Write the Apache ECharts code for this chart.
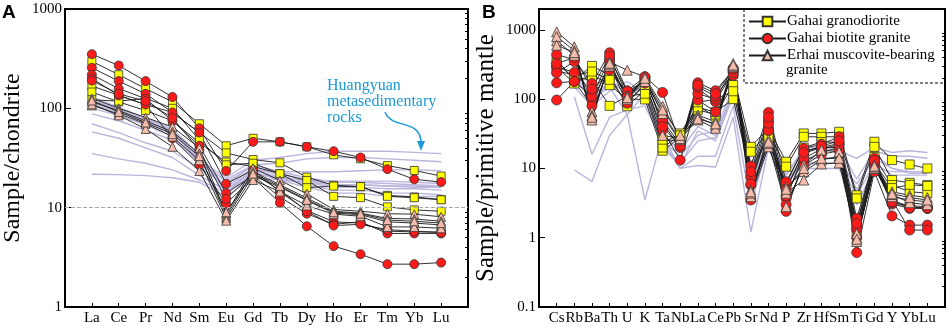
<!DOCTYPE html>
<html>
<head>
<meta charset="utf-8">
<script src="https://cdn.jsdelivr.net/npm/echarts@6/dist/echarts.min.js"></script>
<style>
  html, body { margin: 0; padding: 0; background: #fff; }
  #chart { width: 948px; height: 328px; }
</style>
</head>
<body>
<div id="chart"></div>
<script>
// element order on the two x axes
var reeElements = ['La','Ce','Pr','Nd','Sm','Eu','Gd','Tb','Dy','Ho','Er','Tm','Yb','Lu'];
var spiderElements = ['Cs','Rb','Ba','Th','U','K','Ta','Nb','La','Ce','Pb','Sr','Nd','P','Zr','Hf','Sm','Ti','Gd','Y','Yb','Lu'];

var chondriteTicks = [1, 10, 100, 1000];
var mantleTicks = [0.1, 1, 10, 100, 1000];

// A: chondrite normalised REE
var granodioriteREE = [
  [297, 218, 158, 116, 70, 42, 50, 46, 41, 34, 31, 26.5, 23.7, 20.8],
  [168, 135, 109, 91, 57, 35.6, 30.5, 28.3, 20.3, 16.8, 16.2, 13.3, 12.8, 12.1],
  [146, 116, 95, 75, 45, 28.8, 26, 22, 18.8, 13, 12.6, 10.2, 9.5, 9.2],
  [122, 118, 126, 100, 48, 27, 28, 22, 15.9, 16.5, 16.3, 13, 12.6, 12]
];
var biotiteREE = [
  [351, 270, 188, 130, 63, 23.4, 46, 46, 41, 37, 32, 24.4, 19.3, 18.1],
  [256, 188, 140, 91, 57, 17.4, 24, 14.4, 9.4, 7.2, 7.0, 5.8, 5.7, 5.7],
  [218, 158, 125, 75, 42, 14, 21, 12.8, 8.7, 6.8, 7.2, 5.5, 5.5, 5.5],
  [200, 135, 109, 50, 27, 11, 20, 11.2, 6.5, 4.1, 3.4, 2.7, 2.7, 2.8],
  [190, 140, 118, 80, 38, 12.3, 22, 15, 9.2, 6.6, 6.8, 6.0, 5.8, 5.6]
];
var erhaiREE = [
  [126, 100, 81, 65, 40, 8.7, 25, 18.8, 13.8, 9.6, 9.2, 8.7, 8.6, 8.1],
  [116, 95, 75, 58, 35, 8.2, 23, 17, 12.5, 9.2, 8.8, 7.8, 7.7, 7.3],
  [107, 88, 70, 52, 30, 7.8, 21, 16.1, 11.8, 8.8, 8.5, 7.2, 7, 6.7],
  [110, 85, 62, 41, 23.4, 7.4, 19, 14.5, 10.5, 8.6, 8.2, 6.4, 6.4, 6.2],
  [120, 92, 72, 55, 33, 9, 22, 16.5, 12, 9, 8.7, 7.5, 7.3, 7]
];
var metasedREE = [
  [88, 75, 60, 48, 30, 20, 30, 32, 35, 37, 37, 37, 36, 35],
  [70, 57, 45, 37, 25, 17, 27, 28, 31, 32, 32, 31, 30, 29],
  [58, 50, 40, 32, 21, 15, 24, 23, 23, 23, 23.5, 24, 24, 23.5],
  [35, 31, 28, 24, 19, 14, 22, 20, 19, 18.5, 18.5, 18.5, 18, 17.5],
  [21.7, 21.5, 21, 20, 18, 13, 20, 19, 18, 17, 17, 16.5, 16.5, 16],
  [120, 98, 78, 60, 32, 16, 25, 21, 18, 16, 16, 15.5, 15.5, 15],
  [110, 92, 72, 56, 30, 18, 26, 22, 19, 17, 17, 16.5, 16, 16],
  [130, 102, 80, 62, 34, 14, 24, 20, 17, 15, 15, 14, 14, 13.5],
  [100, 85, 68, 52, 28, 19, 27, 23, 20, 18, 18, 17.5, 17, 16.5],
  [115, 95, 74, 58, 31, 15, 23, 19, 16, 14, 14, 13, 13, 13]
];

// B: primitive mantle normalised trace elements
var granodioriteTrace = [
  [373, 188, 302, 222, 79, 135, 23, 32, 80, 56, 230, 20.5, 38, 12.5, 32, 32, 33.8, 4.1, 24.3, 13.2, 11.4, 10],
  [293, 168, 229, 159, 100, 99, 18, 28, 70, 60, 160, 17.4, 33, 10.6, 28.6, 28.6, 28.6, 3.7, 20.5, 6.8, 6.2, 5.75],
  [330, 200, 192, 80, 110, 120, 20, 30, 76, 65, 100, 8, 30, 6, 20, 24, 24, 1.5, 14.7, 5.75, 4.6, 4.4],
  [260, 220, 250, 190, 90, 160, 26, 25, 90, 100, 130, 10, 28, 5, 18, 20, 20, 1.2, 12, 5.2, 5.8, 5.6]
];
var biotiteTrace = [
  [441, 370, 168, 466, 132, 210, 125, 22, 172, 132, 262, 10.8, 64, 6.4, 19.4, 22.4, 28.6, 1.9, 14, 3.5, 2.8, 2.65],
  [293, 243, 128, 262, 120, 190, 46, 20, 143, 92, 250, 7.6, 49, 3.7, 16.5, 20, 23, 1.3, 11, 3.06, 2.65, 2.65],
  [240, 350, 97, 300, 87, 170, 36, 13.2, 97, 66, 220, 5.75, 38, 2.4, 12.8, 17, 20, 0.61, 9, 2.06, 1.52, 1.52],
  [172, 180, 80, 350, 100, 200, 60, 24, 120, 100, 280, 3.5, 35, 3, 11, 16, 18, 1.0, 10, 3.5, 1.29, 1.29],
  [97, 180, 110, 380, 130, 180, 50, 22, 150, 110, 240, 6, 45, 4, 14, 19, 22, 1.4, 12, 3.2, 2.9, 2.8],
  [325, 400, 140, 420, 110, 210, 40, 21, 160, 120, 270, 9, 55, 5, 17, 21, 25, 1.6, 13, 3.3, 2.7, 2.7]
];
var erhaiTrace = [
  [935, 569, 50, 345, 262, 210, 79, 28, 59, 47, 327, 4.9, 26, 5.4, 9, 13.2, 15, 0.88, 11.2, 4.6, 4.1, 3.8],
  [694, 431, 66, 300, 110, 190, 62, 26, 55, 42, 290, 3.9, 20.5, 4.4, 6.8, 11.6, 12, 1.0, 10, 3.9, 3.5, 3.3],
  [800, 500, 58, 320, 100, 180, 30, 27, 50, 38, 300, 4.4, 23, 2.8, 11.2, 18.4, 17.4, 1.15, 10.5, 4.2, 3.2, 3.0],
  [600, 470, 55, 330, 105, 200, 70, 30, 52, 44, 310, 4.6, 24, 5, 10, 14, 14, 0.95, 10.8, 4.3, 3.8, 3.5]
];
var metasedTrace = [
  [null, 9.5, 6.5, 30, 60, 3.5, 30, 10, 11, 10.5, 55, 1.2, 20, 5, 10, 10, 10, 3, 10, 9, 9, 9],
  [null, 108, 16, 55, 70, 80, 25, 10, 15, 15, 80, 3, 22, 6, 12, 12, 12, 4, 12, 8, 8, 8],
  [null, 200, 100, 150, 60, 120, 20, 12, 25, 28, 120, 10, 25, 8, 18, 20, 18, 14, 20, 17, 18, 17],
  [null, 250, 90, 180, 120, 150, 25, 15, 30, 35, 150, 12, 28, 8, 20, 20, 20, 7, 18, 15, 15, 14],
  [null, 180, 110, 170, 150, 100, 30, 18, 40, 30, 130, 6, 25, 6, 14, 14, 14, 5, 16, 10, 8.5, 8.5],
  [null, 150, 80, 130, 180, 120, 20, 11, 35, 25, 110, 8, 24, 7, 12, 12, 12, 6, 14, 10, 9, 9]
];

var serif = "'Liberation Serif', 'Times New Roman', serif";
var names = {
  gd: 'Gahai granodiorite',
  bt: 'Gahai biotite granite',
  er: 'Erhai muscovite-bearing granite',
  hy: 'Huangyuan metasedimentary rocks'
};
var styles = {
  gd: { symbol: 'rect', size: 8, color: '#ffff00' },
  bt: { symbol: 'circle', size: 9, color: '#ff1a1a' },
  er: { symbol: 'triangle', size: 9, color: '#f5bcab' }
};

function toPoints(row) {
  return row.map(function (v, i) { return [i + 1, v]; });
}

function sampleSeries(key, rows, xi, yi, grow) {
  var st = styles[key];
  return rows.map(function (row) {
    return {
      name: names[key],
      type: 'line',
      xAxisIndex: xi,
      yAxisIndex: yi,
      data: toPoints(row),
      symbol: st.symbol,
      symbolSize: st.size + grow,
      showAllSymbol: true,
      connectNulls: false,
      lineStyle: { color: '#1a1a1a', width: 0.9 },
      itemStyle: { color: st.color, borderColor: '#333', borderWidth: 0.8 },
      emphasis: { disabled: true },
      animation: false
    };
  });
}

function bgSeries(rows, xi, yi) {
  return rows.map(function (row) {
    return {
      name: names.hy,
      type: 'line',
      xAxisIndex: xi,
      yAxisIndex: yi,
      data: toPoints(row),
      symbol: 'none',
      lineStyle: { color: '#bab5dc', width: 1.4 },
      itemStyle: { color: '#bab5dc' },
      emphasis: { disabled: true },
      animation: false
    };
  });
}

var series = [].concat(
  bgSeries(metasedREE, 0, 0),
  sampleSeries('gd', granodioriteREE, 0, 0, 0),
  sampleSeries('bt', biotiteREE, 0, 0, 0),
  sampleSeries('er', erhaiREE, 0, 0, 0),
  bgSeries(metasedTrace, 1, 2),
  sampleSeries('gd', granodioriteTrace, 1, 2, 1),
  sampleSeries('bt', biotiteTrace, 1, 2, 1),
  sampleSeries('er', erhaiTrace, 1, 2, 1)
);

// dashed reference line at 10 in panel A
series[0].markLine = {
  silent: true,
  symbol: 'none',
  label: { show: false },
  lineStyle: { color: '#aaaaaa', type: 'dashed', width: 1 },
  data: [{ yAxis: 10 }]
};

function minorTicks(lo, hi) {
  var out = [];
  for (var d = lo; d < hi; d *= 10) {
    for (var k = 2; k <= 9; k++) out.push(+(d * k).toPrecision(3));
  }
  return out;
}

function xAxisFor(grid, list) {
  return {
    type: 'value',
    gridIndex: grid,
    min: 0,
    max: list.length + 1,
    interval: 1,
    axisLine: { show: false },
    splitLine: { show: false },
    axisTick: { inside: true, length: 4, lineStyle: { color: '#000' } },
    axisLabel: {
      margin: 4,
      fontFamily: serif,
      fontSize: 15,
      color: '#000',
      formatter: function (v) { return list[v - 1] || ''; }
    }
  };
}

function yMain(grid, min, max, ticks, name, fontSize, gap) {
  return {
    type: 'log',
    logBase: 10,
    gridIndex: grid,
    min: min,
    max: max,
    name: name,
    nameLocation: 'middle',
    nameGap: gap,
    nameTextStyle: { fontFamily: serif, fontSize: fontSize, color: '#000' },
    axisLine: { show: false },
    splitLine: { show: false },
    axisTick: { inside: true, length: 6, customValues: ticks, lineStyle: { color: '#000' } },
    axisLabel: {
      customValues: ticks,
      margin: 3,
      fontFamily: serif,
      fontSize: 15,
      color: '#000',
      formatter: function (v) { return String(v); }
    }
  };
}

function yMinor(grid, min, max) {
  return {
    type: 'log',
    logBase: 10,
    gridIndex: grid,
    min: min,
    max: max,
    axisLine: { show: false },
    splitLine: { show: false },
    axisLabel: { show: false },
    axisTick: { inside: true, length: 3, customValues: minorTicks(min, max), lineStyle: { color: '#000' } }
  };
}

var chart = echarts.init(document.getElementById('chart'), null, { renderer: 'canvas' });
chart.setOption({
  backgroundColor: '#fff',
  animation: false,
  textStyle: { fontFamily: serif },
  grid: [
    { left: 61, right: 480, top: 9, bottom: 21, show: true, borderColor: '#000', borderWidth: 2, backgroundColor: 'transparent' },
    { left: 539, right: 2, top: 9, bottom: 21, show: true, borderColor: '#000', borderWidth: 2, backgroundColor: 'transparent' }
  ],
  xAxis: [xAxisFor(0, reeElements), xAxisFor(1, spiderElements)],
  yAxis: [
    yMain(0, 1, 1000, chondriteTicks, 'Sample/chondrite', 24, 40),
    yMinor(0, 1, 1000),
    yMain(1, 0.1, 2000, mantleTicks, 'Sample/primitive mantle', 25, 40),
    yMinor(1, 0.1, 2000)
  ],
  legend: {
    data: [names.gd, names.bt, names.er],
    orient: 'vertical',
    left: 748,
    top: 14,
    padding: 0,
    itemWidth: 37,
    itemHeight: 12,
    itemGap: 2,
    selectedMode: false,
    formatter: function (n) { return n === names.er ? 'Erhai muscovite-bearing' : n; },
    textStyle: { fontFamily: serif, fontSize: 15, color: '#000', padding: [0, 0, 0, -4] }
  },
  graphic: [
    { type: 'text', left: 2, top: 3, style: { text: 'A', font: 'bold 19px "Liberation Sans", Arial, sans-serif', fill: '#000' } },
    { type: 'text', left: 482, top: 3, style: { text: 'B', font: 'bold 19px "Liberation Sans", Arial, sans-serif', fill: '#000' } },
    { type: 'polyline', silent: true, shape: { points: [[744, 9], [744, 83], [946, 83]] },
      style: { stroke: '#000', lineWidth: 1, lineDash: [3, 2], fill: null } },
    { type: 'text', left: 786, top: 63, style: { text: 'granite', font: '15px ' + serif, fill: '#000' } },
    { type: 'text', left: 327, top: 78,
      style: { text: 'Huangyuan\nmetasedimentary\nrocks', font: '16px ' + serif, lineHeight: 16, fill: '#1b9ad7' } },
    { type: 'bezierCurve', silent: true,
      shape: { x1: 385, y1: 112, cpx1: 392, cpy1: 130, cpx2: 421, cpy2: 118, x2: 421, y2: 143 },
      style: { stroke: '#1b9ad7', lineWidth: 1.5, fill: null } },
    { type: 'polygon', silent: true, shape: { points: [[421, 151], [417, 141], [425, 141]] },
      style: { fill: '#1b9ad7' } }
  ],
  series: series
});
</script>
</body>
</html>
